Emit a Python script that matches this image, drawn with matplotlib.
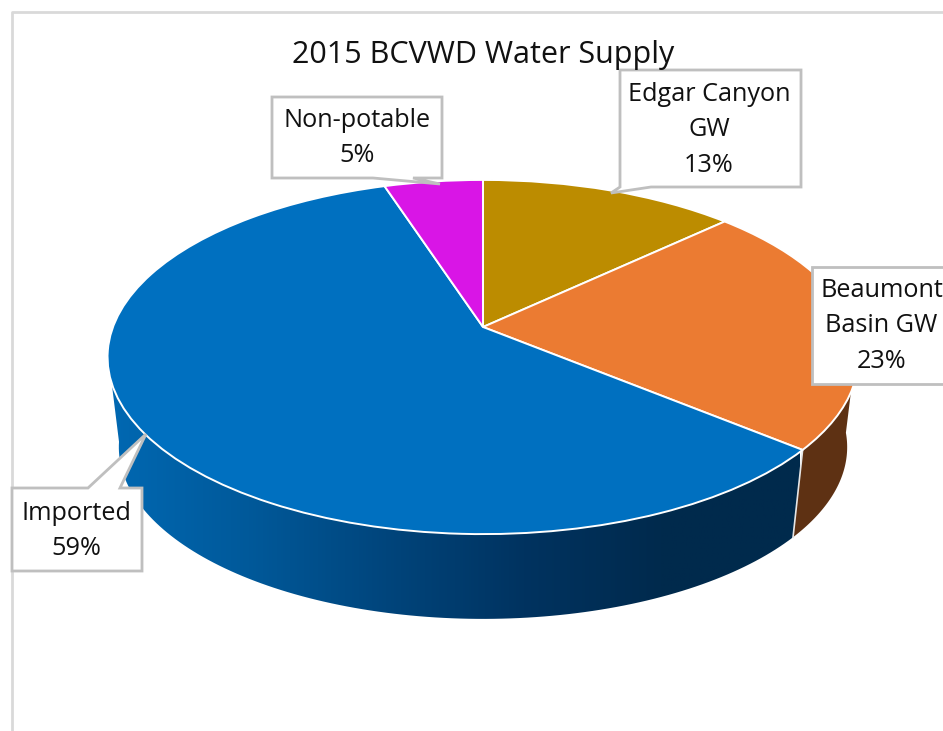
import matplotlib
matplotlib.use("Agg")
import matplotlib.pyplot as plt
import numpy as np
from matplotlib.colors import LinearSegmentedColormap
from matplotlib.patches import Polygon
from matplotlib.transforms import Transform

plt.rcParams['font.family'] = ['Open Sans', 'DejaVu Sans']

title = "2015 BCVWD Water Supply"
names = ["Edgar Canyon\nGW", "Beaumont\nBasin GW", "Imported", "Non-potable"]
values = [13, 23, 59, 5]
colors = ["#BC8C00", "#EB7B32", "#0070C0", "#D915E6"]

side_stops = ["#0068B2", "#00599A", "#00457C", "#003360", "#002A4D", "#002A4C"]
brown = "#5E3113"
border = "#D9D9D9"
box_edge = "#BFBFBF"
text_col = "#111111"

# pie is tilted with perspective, k moves far edge away
cx, cy, ax_x, ax_y, k = 483, 327, 370, 172, 0.1695
cy_low, scale_low = 418, 0.97


def project(x, y, yc=cy, s=1.0):
    w = 1 + k * y
    return cx + s * ax_x * x / w, yc - s * ax_y * y / w


class Perspective(Transform):
    input_dims = 2
    output_dims = 2
    has_inverse = False

    def transform_non_affine(self, values):
        values = np.asarray(values)
        return np.column_stack(project(values[:, 0], values[:, 1]))


def rim(start, stop, yc=cy, s=1.0):
    t = np.radians(np.linspace(start, stop, 120))
    return np.column_stack(project(np.sin(t), np.cos(t), yc, s))


def side_poly(start, stop):
    return np.vstack([rim(start, stop), rim(start, stop, cy_low, scale_low)[::-1]])


fig = plt.figure(figsize=(9.43, 7.31), dpi=100)
ax = fig.add_axes([0, 0, 1, 1])

wedges, _ = ax.pie(values, colors=colors, startangle=90, counterclock=False,
                   wedgeprops=dict(edgecolor="white", linewidth=1.4))
tr = Perspective() + ax.transData
for w in wedges:
    w.set_transform(tr)
    w.set_zorder(5)

ax.set_xlim(0, 943)
ax.set_ylim(731, 0)
ax.set_aspect("auto")
ax.axis("off")

# walls, boundaries come from the values
cum = np.cumsum(values) / sum(values) * 360
wall_split = cum[1]

brown_wall = Polygon(side_poly(95, wall_split), facecolor=brown, edgecolor="none", zorder=2)
ax.add_patch(brown_wall)

blue_wall = Polygon(side_poly(wall_split, 262), facecolor="none", edgecolor="none", zorder=2)
ax.add_patch(blue_wall)
cmap = LinearSegmentedColormap.from_list("wall", side_stops)
grad = ax.imshow(np.linspace(0, 1, 256).reshape(1, -1), cmap=cmap, aspect="auto",
                 extent=[110, 800, 640, 340], zorder=2)
grad.set_clip_path(blue_wall)
ax.set_xlim(0, 943)
ax.set_ylim(731, 0)

split_line = np.vstack([rim(wall_split, wall_split), rim(wall_split, wall_split, cy_low, scale_low)])
ax.plot(split_line[[0, -1], 0], split_line[[0, -1], 1], color="#E6E6E6", lw=1.2, zorder=3)

# chart frame
ax.plot([11.5, 11.5, 943], [731, 11.5, 11.5], color=border, lw=2, zorder=1)

ax.text(483, 55, title, ha="center", va="center", fontsize=22, color=text_col, zorder=8)


def callout(outline, cxt, cyt, label):
    ax.add_patch(Polygon(outline, closed=True, facecolor="white", edgecolor=box_edge,
                         linewidth=2, zorder=6))
    ax.text(cxt, cyt, label, ha="center", va="center", fontsize=18.2, color=text_col,
            linespacing=1.55, zorder=8, clip_on=True)


labels = [f"{n}\n{v}%" for n, v in zip(names, values)]

callout([(620, 70), (801, 70), (801, 187), (651, 187), (611, 193), (620, 187)],
        709, 130, labels[0])
callout([(812, 267), (960, 267), (960, 384), (812, 384)],
        881.5, 326, labels[1])
callout([(12, 488), (88, 488), (146, 434), (120, 488), (142, 488), (142, 571), (12, 571)],
        76, 531, labels[2])
callout([(272, 97), (442, 97), (442, 178), (413, 178), (440, 184), (373, 178), (272, 178)],
        357, 138, labels[3])

fig.savefig("out.png", dpi=100)
